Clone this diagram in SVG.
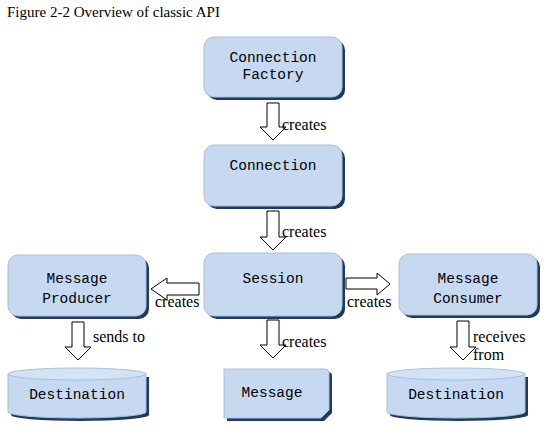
<svg xmlns="http://www.w3.org/2000/svg" width="548" height="443" viewBox="0 0 548 443">
<style>
.box{fill:#c6d9f1;stroke:#a9c0de;stroke-width:1}
.sh{fill:#23395a}
.nt{font-family:"Liberation Mono",monospace;font-size:14.5px;fill:#000;text-anchor:middle}
.lb{font-family:"Liberation Serif",serif;font-size:16px;fill:#000}
.ar{fill:#fff;stroke:#000;stroke-width:1}
</style>
<rect width="548" height="443" fill="#fff"/>
<text x="7" y="17" font-family="Liberation Serif,serif" font-size="15" fill="#000">Figure 2-2 Overview of classic API</text>

<g id="connection-factory">
<rect class="sh" x="207" y="40" width="138" height="60" rx="10"/>
<rect class="box" x="204" y="37" width="138" height="60" rx="10"/>
<text class="nt" x="273" y="62">Connection</text>
<text class="nt" x="273" y="79">Factory</text>
</g>
<g id="connection">
<rect class="sh" x="207" y="148" width="138" height="61" rx="10"/>
<rect class="box" x="204" y="145" width="138" height="61" rx="10"/>
<text class="nt" x="273" y="170">Connection</text>
</g>
<g id="session">
<rect class="sh" x="207" y="256" width="138" height="63" rx="10"/>
<rect class="box" x="204" y="253" width="138" height="63" rx="10"/>
<text class="nt" x="273" y="283">Session</text>
</g>
<g id="message-producer">
<rect class="sh" x="11" y="258" width="138" height="61" rx="10"/>
<rect class="box" x="8" y="255" width="138" height="61" rx="10"/>
<text class="nt" x="77" y="283">Message</text>
<text class="nt" x="77" y="303">Producer</text>
</g>
<g id="message-consumer">
<rect class="sh" x="402" y="257" width="138" height="61" rx="10"/>
<rect class="box" x="399" y="254" width="138" height="61" rx="10"/>
<text class="nt" x="468" y="283">Message</text>
<text class="nt" x="468" y="303">Consumer</text>
</g>
<g id="destination-left">
<path class="sh" d="M11,377 L149,377 L149,415 A69,6 0 0 1 11,415 Z"/>
<path class="box" d="M8,374 L146,374 L146,412 A69,6 0 0 1 8,412 Z"/>
<ellipse class="box" cx="77" cy="374" rx="69" ry="6" style="fill:#d3e2f5"/>
<text class="nt" x="77" y="399">Destination</text>
</g>
<g id="message">
<path class="sh" d="M227,372 L328,372 Q332,372 332,376 L332,413 L324,421 L227,421 Z"/>
<path class="box" d="M224,369 L325,369 Q329,369 329,373 L329,410 L321,418 L224,418 Z"/>
<text class="nt" x="272" y="397">Message</text>
</g>
<g id="destination-right">
<path class="sh" d="M390,377 L528,377 L528,415 A69,6 0 0 1 390,415 Z"/>
<path class="box" d="M387,374 L525,374 L525,412 A69,6 0 0 1 387,412 Z"/>
<ellipse class="box" cx="456" cy="374" rx="69" ry="6" style="fill:#d3e2f5"/>
<text class="nt" x="456" y="399">Destination</text>
</g>

<g id="connectors">
<path class="ar" d="M267,103 L279,103 L279,127 L286,127 L273,140 L260,127 L267,127 Z"/>
<path class="ar" d="M267,211 L279,211 L279,237 L286,237 L273,250 L260,237 L267,237 Z"/>
<path class="ar" d="M267,320 L279,320 L279,345 L286,345 L273,358 L260,345 L267,345 Z"/>
<path class="ar" d="M72,322 L84,322 L84,347 L91,347 L78,360 L65,347 L72,347 Z"/>
<path class="ar" d="M457,321 L469,321 L469,347 L476,347 L463,360 L450,347 L457,347 Z"/>
<path class="ar" d="M199,283 L199,295 L167,295 L167,300 L151,289 L167,278 L167,283 Z"/>
<path class="ar" d="M346,278 L346,289 L377,289 L377,295 L390,284 L377,273 L377,278 Z"/>
<text class="lb" x="282" y="130">creates</text>
<text class="lb" x="282" y="237">creates</text>
<text class="lb" x="155" y="307">creates</text>
<text class="lb" x="347" y="307">creates</text>
<text class="lb" x="282" y="347">creates</text>
<text class="lb" x="93" y="342">sends to</text>
<text class="lb" x="473" y="342">receives</text>
<text class="lb" x="473" y="360">from</text>
</g>
</svg>
